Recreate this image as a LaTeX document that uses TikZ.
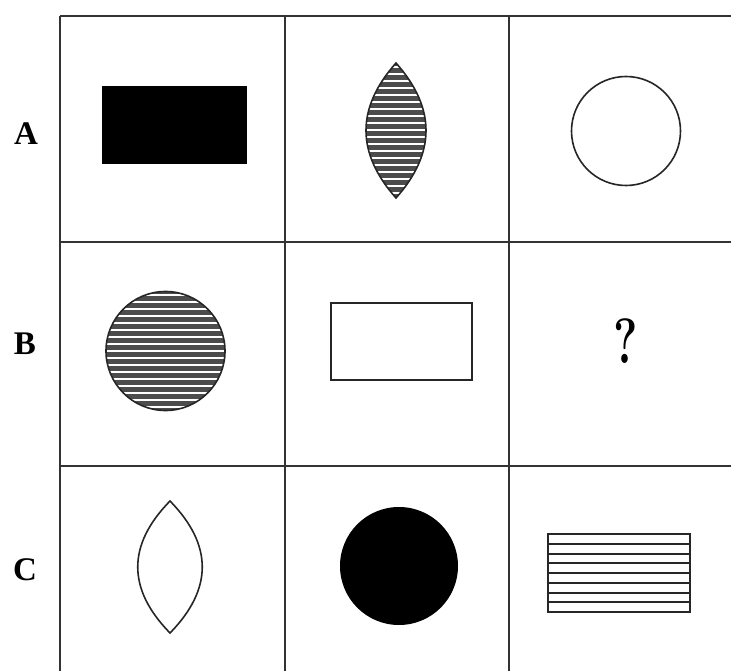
\documentclass[tikz,border=0pt]{standalone}
\usepackage{fontspec}
\setmainfont{Liberation Serif}
\newfontfamily\lmqfont{Latin Modern Roman}
\begin{document}
\begin{tikzpicture}[x=1pt,y=-1pt,
  gridline/.style={line width=2.1pt,draw=black!80},
  shapeline/.style={line width=1.6pt,draw=black!85},
  rowlabel/.style={font=\fontsize{33}{33}\selectfont\bfseries,inner sep=0pt},
  stripe/.style={line width=2pt,draw=white},
  blackstripe/.style={line width=2pt,draw=black!85}]
\useasboundingbox (0,0) rectangle (731,671);
\fill[white] (0,0) rectangle (731,671);
% grid
\coordinate (v1t) at (60,16); \coordinate (v1b) at (60,671);
\coordinate (v2t) at (285,16); \coordinate (v2b) at (285,671);
\coordinate (v3t) at (509,16); \coordinate (v3b) at (509,671);
\coordinate (h1l) at (60,16); \coordinate (h1r) at (731,16);
\coordinate (h2l) at (60,242); \coordinate (h2r) at (731,242);
\coordinate (h3l) at (60,466); \coordinate (h3r) at (731,466);
\draw[gridline] (v1t) -- (v1b);
\draw[gridline] (v2t) -- (v2b);
\draw[gridline] (v3t) -- (v3b);
\draw[gridline] (h1l) -- (h1r);
\draw[gridline] (h2l) -- (h2r);
\draw[gridline] (h3l) -- (h3r);
% row labels
\node[rowlabel] (la) at (26,134) {A};
\node[rowlabel] (lb) at (25,344) {B};
\node[rowlabel] (lc) at (25,570) {C};
% A1 black rectangle
\fill[black] (102,86) rectangle (247,164);
% A2 striped lens
\begin{scope}
  \clip (396,63) .. controls (356,108) and (356,153) .. (396,198)
        .. controls (436,153) and (436,108) .. (396,63) -- cycle;
  \fill[black!70] (350,55) rectangle (440,205);
  \foreach \yy in {67,74,...,200} \draw[stripe] (350,\yy) -- (440,\yy);
\end{scope}
\draw[shapeline] (396,63) .. controls (356,108) and (356,153) .. (396,198)
        .. controls (436,153) and (436,108) .. (396,63) -- cycle;
% A3 circle
\draw[shapeline] (626,131) circle[radius=54.5];
% B1 striped circle
\begin{scope}
  \clip (165.5,351) circle[radius=59.5];
  \fill[black!70] (100,285) rectangle (232,418);
  \foreach \yy in {295,302,...,412} \draw[stripe] (100,\yy) -- (232,\yy);
\end{scope}
\draw[shapeline] (165.5,351) circle[radius=59.5];
% B2 rectangle
\draw[shapeline] (331,303) rectangle (472,380);
% question mark
\node[inner sep=0pt,font=\lmqfont\bfseries\fontsize{64}{64}\selectfont,xscale=0.72] (q) at (626,341) {?};
% C1 lens
\draw[shapeline] (170,501) .. controls (127,545) and (127,589) .. (170,633)
        .. controls (213,589) and (213,545) .. (170,501) -- cycle;
% C2 black circle
\fill[black] (399,566) circle[radius=59];
% C3 striped rectangle
\foreach \yy in {543.75,553.5,...,603} \draw[blackstripe] (548,\yy) -- (690,\yy);
\draw[shapeline] (548,534) rectangle (690,612);
\end{tikzpicture}
\end{document}
